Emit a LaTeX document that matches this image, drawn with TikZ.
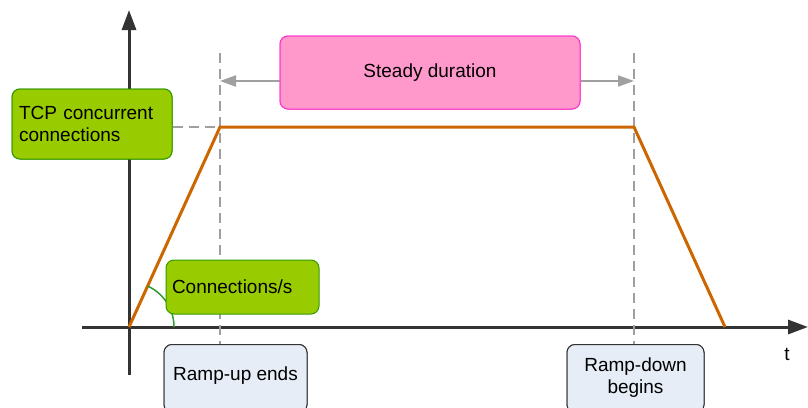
\documentclass[tikz,border=0pt]{standalone}
\usepackage{fontspec}
\setmainfont{Liberation Sans}
\usetikzlibrary{arrows.meta}
\definecolor{axisgray}{HTML}{333333}
\definecolor{dashgray}{HTML}{A0A0A0}
\definecolor{rampor}{HTML}{CC6600}
\definecolor{greenfill}{HTML}{99CC00}
\definecolor{greenline}{HTML}{339900}
\definecolor{pinkfill}{HTML}{FF99CC}
\definecolor{pinkline}{HTML}{FF33CC}
\definecolor{bluefill}{HTML}{E6EDF7}
\definecolor{arcgreen}{HTML}{2E9B2E}
\begin{document}
\begin{tikzpicture}[x=1pt,y=-1pt,
  every node/.style={font=\fontsize{19}{22}\selectfont},
  axisline/.style={draw=axisgray,line width=3pt,-{Triangle[length=20pt,width=14pt]}},
  guide/.style={draw=dashgray,line width=2pt,dash pattern=on 10pt off 6pt},
  spanarrow/.style={draw=dashgray,line width=2pt,-{Triangle[length=16pt,width=11pt]}},
  greenbox/.style={draw=greenline,fill=greenfill,rounded corners=8pt,line width=1pt},
  pinkbox/.style={draw=pinkline,fill=pinkfill,rounded corners=8pt,line width=1pt},
  bluebox/.style={draw=axisgray,fill=bluefill,rounded corners=8pt,line width=1pt,align=center}]
\useasboundingbox (0,0) rectangle (808,407);
\clip (0,0) rectangle (808,407);
% key points
\coordinate (O) at (129,327);
\coordinate (A) at (220,127);
\coordinate (B) at (634,127);
\coordinate (C) at (725,327);
\coordinate (ytop) at (129,10);
\coordinate (ybot) at (129,375);
\coordinate (xl) at (82,327);
\coordinate (xr) at (808,327);
\coordinate (gA) at (220,53);
\coordinate (gB) at (634,53);
% boxes (positions)
\node[greenbox,minimum height=70pt,text width=146pt,inner xsep=7pt,align=left,anchor=center] (tcp) at (92,124) {TCP concurrent\\connections};
\node[pinkbox,minimum width=300pt,minimum height=73pt,inner sep=0pt] (steady) at (430,72.5) {Steady duration};
\node[bluebox,minimum width=143pt,minimum height=68pt,inner sep=0pt,anchor=north] (rup) at (235.5,344) {};
\node[bluebox,minimum width=137pt,minimum height=68pt,inner sep=0pt,anchor=north] (rdown) at (635.5,344) {};
% axes
\draw[axisline] (ybot) -- (ytop);
\draw[axisline] (xl) -- (xr);
% guides
\draw[guide] (gA) -- (rup.north -| gA);
\draw[guide] (gB) -- (rdown.north -| gB);
\draw[guide] (tcp.east |- A) -- (A);
% span arrows
\draw[spanarrow] (steady.west |- 0,81) -- (gA |- 0,81);
\draw[spanarrow] (steady.east |- 0,81) -- (gB |- 0,81);
% ramp
\draw[rampor,line width=3pt,line join=miter] (O) -- (A) -- (B) -- (C);
% angle arc
\draw[arcgreen,line width=1.5pt,domain=0:65.5,variable=\a,samples=40] plot ({129+45*cos(\a)},{327-45*sin(\a)});
% redraw boxes on top
\node[greenbox,minimum height=70pt,text width=146pt,inner xsep=7pt,align=left] at (tcp.center) {TCP concurrent\\connections};
\node[pinkbox,minimum width=300pt,minimum height=73pt,inner sep=0pt] at (steady.center) {Steady duration};
\node[greenbox,minimum height=54pt,text width=141pt,inner xsep=6pt,align=left] (cps) at (242.5,287) {Connections/s};
\node[bluebox,minimum width=143pt,minimum height=68pt,inner sep=0pt,anchor=north] at (rup.north) {};
\node (ruptext) at (235.5,376) {Ramp-up ends};
\node[bluebox,minimum width=137pt,minimum height=68pt,inner sep=0pt,anchor=north] at (rdown.north) {};
\node[align=center] (rdowntext) at (635.5,378) {Ramp-down\\begins};
\node (tlabel) at (787,354) {t};
\end{tikzpicture}
\end{document}
